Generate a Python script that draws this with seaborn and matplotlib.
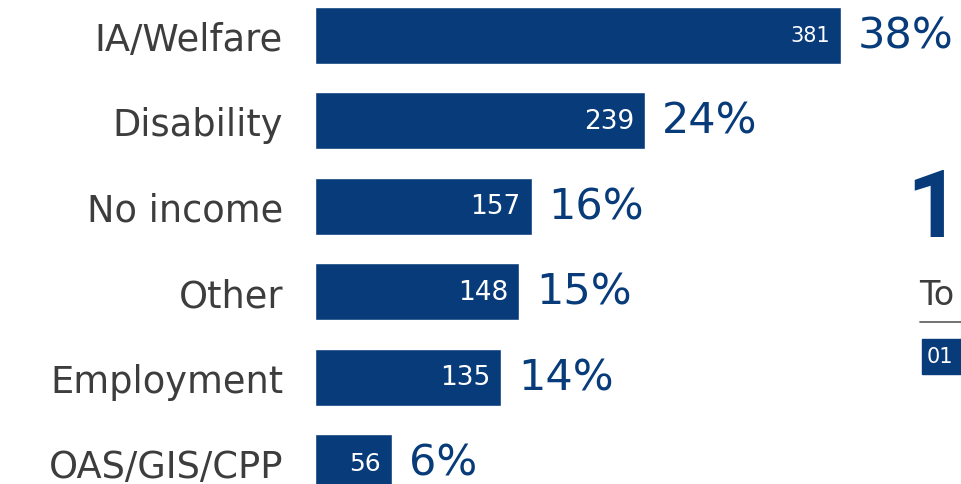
import matplotlib
matplotlib.use("Agg")
import matplotlib.pyplot as plt
from matplotlib.patches import Rectangle
from matplotlib.lines import Line2D
import seaborn as sns
import pandas as pd

# ---- data ----
categories = ["IA/Welfare", "Disability", "No income", "Other", "Employment", "OAS/GIS/CPP"]
counts = [381, 239, 157, 148, 135, 56]
percent_labels = ["38%", "24%", "16%", "15%", "14%", "6%"]
side_number = "1"
side_title = "To"
side_tag = "01"

# ---- style ----
NAVY = "#073b7a"
GRAY = "#3d3d3d"
inner_label_size = [15, 19, 19, 19, 19, 18]

sns.set_theme(style="white")
plt.rcParams["font.family"] = ["DejaVu Sans"]

W, H = 961, 485
fig = plt.figure(figsize=(W / 100, H / 100), dpi=100)
fig.patch.set_facecolor("white")
ax = fig.add_axes([315 / W, 0, 646 / W, 1])

df = pd.DataFrame({"category": categories, "count": counts})
sns.barplot(data=df, x="count", y="category", orient="h", color=NAVY,
            saturation=1, width=0.667, ax=ax)

ax.set_xlim(0, 646 / 1.381)
ax.set_ylim(5.25, -0.427)
ax.set_xlabel("")
ax.set_ylabel("")
ax.set_xticks([])
for s in ax.spines.values():
    s.set_visible(False)
ax.tick_params(axis="y", length=0, pad=23, labelsize=26.5, labelcolor=GRAY)
ax.set_facecolor("white")

for i, (c, p) in enumerate(zip(counts, percent_labels)):
    ax.annotate(str(c), xy=(c, i), xytext=(-8, 0), textcoords="offset points",
                ha="right", va="center", color="white",
                fontsize=inner_label_size[i])
    ax.annotate(p, xy=(c, i), xytext=(12, 0), textcoords="offset points",
                ha="left", va="center", color=NAVY, fontsize=31,
                annotation_clip=False)

# partial side panel (at right edge)
fig.text(906 / W, 1 - 237 / H, side_number, ha="left", va="baseline",
         fontsize=68, fontweight="bold", family=["Roboto", "DejaVu Sans"],
         color=NAVY)
fig.text(919 / W, 1 - 305 / H, side_title, ha="left", va="baseline",
         fontsize=24, color=GRAY)
fig.add_artist(Line2D([920 / W, 1.0], [1 - 323 / H, 1 - 323 / H],
                      color="#666666", lw=1.3, transform=fig.transFigure))
fig.add_artist(Rectangle((922 / W, 1 - 375 / H), 45 / W, 35 / H,
                         transform=fig.transFigure, color=NAVY))
fig.text(927 / W, 1 - 357 / H, side_tag, ha="left", va="center",
         fontsize=15, color="white")

fig.savefig("out.png", dpi=100, facecolor="white")
